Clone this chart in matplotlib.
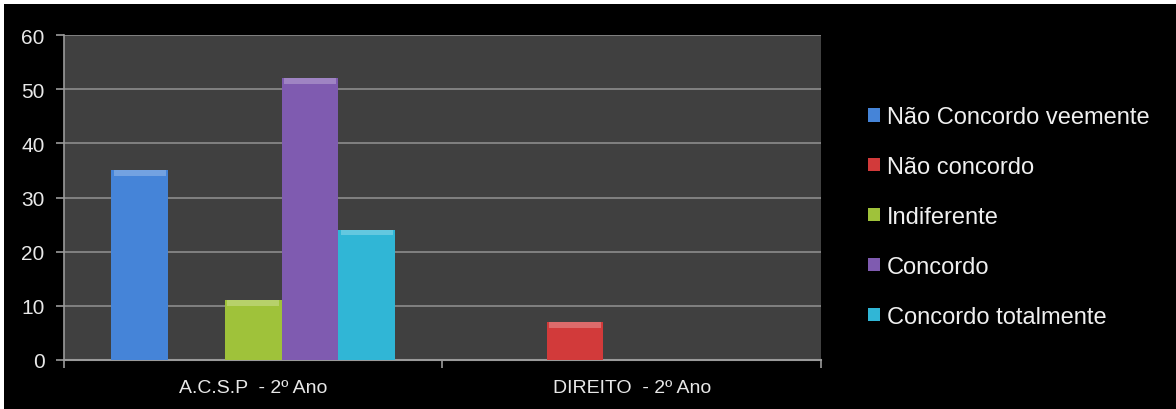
import matplotlib
matplotlib.use("Agg")
import matplotlib.pyplot as plt
from matplotlib.patches import Rectangle
import numpy as np

plt.rcParams["font.family"] = ["Liberation Sans", "DejaVu Sans"]

categories = ["A.C.S.P  - 2º Ano", "DIREITO  - 2º Ano"]
series = ["Não Concordo veemente", "Não concordo", "Indiferente", "Concordo", "Concordo totalmente"]
values = {
    "Não Concordo veemente": [35, 0],
    "Não concordo": [0, 7],
    "Indiferente": [11, 0],
    "Concordo": [52, 0],
    "Concordo totalmente": [24, 0],
}
colors = ["#4584d8", "#d23a3a", "#9fc23a", "#7f5bb0", "#30b6d6"]
y_ticks = [0, 10, 20, 30, 40, 50, 60]

W, H = 1176, 410
fig = plt.figure(figsize=(W / 100, H / 100), dpi=100, facecolor="black")
# thin white margin at top and left, as in the cropped slide
fig.patches.append(Rectangle((0, 1 - 5 / H), 1, 5 / H, transform=fig.transFigure,
                             facecolor="white", edgecolor="none"))
fig.patches.append(Rectangle((0, 0), 4 / W, 1, transform=fig.transFigure,
                             facecolor="white", edgecolor="none"))

ax = fig.add_axes([64 / W, 49 / H, 757 / W, 325 / H])
ax.set_facecolor("#404040")

x = np.arange(len(categories))
bw = 0.15
for i, (name, col) in enumerate(zip(series, colors)):
    pos = x + (i - 2) * bw
    vals = values[name]
    bars = ax.bar(pos, vals, width=bw, color=col, edgecolor="none", zorder=3, label=name)
    # light bevel on top of each bar
    for b, v in zip(bars, vals):
        if v > 0:
            ax.bar(b.get_x() + bw / 2, 1.0, bottom=v - 1.0, width=bw * 0.92,
                   color="white", alpha=0.25, edgecolor="none", zorder=4)

ax.set_xlim(-0.5, 1.5)
ax.set_ylim(0, 60)
ax.set_yticks(y_ticks)
ax.set_yticklabels([str(t) for t in y_ticks], color="#e8e8e8", fontsize=15)
ax.yaxis.grid(True, color="#8c8c8c", lw=1.2, zorder=1)
ax.set_axisbelow(True)

ax.set_xticks(x)
ax.set_xticklabels(categories, color="#e8e8e8", fontsize=14)
ax.tick_params(axis="x", length=0, pad=14)
ax.set_xticks([-0.5, 0.5, 1.5], minor=True)
ax.tick_params(axis="x", which="minor", length=6, color="#9a9a9a", width=1.2)
ax.tick_params(axis="y", length=6, color="#9a9a9a", width=1.2, pad=8)

for s in ["top", "right"]:
    ax.spines[s].set_visible(False)
ax.spines["left"].set_color("#9a9a9a")
ax.spines["left"].set_linewidth(1.2)
ax.spines["bottom"].set_color("#9a9a9a")
ax.spines["bottom"].set_linewidth(1.5)

leg = fig.legend(*ax.get_legend_handles_labels(), loc="upper left",
                 bbox_to_anchor=(847 / W, 1 - 86 / H), frameon=False,
                 fontsize=17, labelcolor="#f0f0f0", handlelength=0.5, handleheight=0.5,
                 handletextpad=0.3, labelspacing=1.18)

fig.savefig("out.png", dpi=100, facecolor=fig.get_facecolor())
